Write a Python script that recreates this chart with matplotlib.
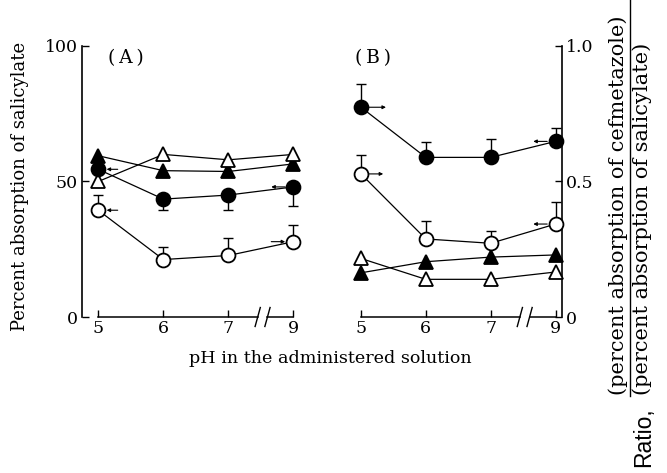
import matplotlib
matplotlib.use("Agg")
import matplotlib.pyplot as plt
from matplotlib.transforms import ScaledTranslation
from matplotlib.lines import Line2D

# ---------------- data ----------------
ph_labels = ["5", "6", "7", "9"]
ph_pos = [5, 6, 7, 8]          # 9 is drawn after an axis break

# Panel A (left axis, percent)
a_tri_filled = [59.5, 54.0, 53.7, 56.5]
a_tri_open = [50.0, 60.0, 58.0, 60.0]
a_circ_filled = [54.5, 43.5, 45.0, 48.0]
a_circ_filled_err_lo = [0.0, 4.1, 5.6, 7.0]
a_circ_open = [39.4, 21.2, 22.7, 27.8]
a_circ_open_err_up = [5.6, 4.6, 6.6, 6.2]

# Panel B (right axis, ratio)
b_circ_filled = [0.774, 0.589, 0.589, 0.648]
b_circ_filled_err_up = [0.084, 0.056, 0.068, 0.051]
b_circ_open = [0.528, 0.288, 0.272, 0.343]
b_circ_open_err_up = [0.071, 0.068, 0.047, 0.080]
b_tri_filled = [0.163, 0.204, 0.221, 0.229]
b_tri_open = [0.216, 0.139, 0.139, 0.166]

left_ticks = [0, 50, 100]
left_ticklabels = ["0", "50", "100"]
right_ticks = [0, 0.5, 1.0]
right_ticklabels = ["0", "0.5", "1.0"]

SERIF = ["DejaVu Serif"]
plt.rcParams["font.family"] = SERIF

W, H = 667, 473
fig = plt.figure(figsize=(W / 100, H / 100), dpi=100)


def fx(px):
    return px / W


def fy(py):
    return 1 - py / H


AX_BOT = 317
axA = fig.add_axes([fx(82), fy(AX_BOT), fx(300) - fx(82), fy(46) - fy(AX_BOT)])
axB = fig.add_axes([fx(348), fy(AX_BOT), fx(562) - fx(348), fy(46) - fy(AX_BOT)])

axA.set_xlim(4.75, 8.1)
axA.set_ylim(0, 100)
axB.set_xlim(4.8, 8.1)
axB.set_ylim(0, 1.0)

LW = 0.9
MS = 10
MEW = 1.3


def series(ax, y, marker, filled, z=3):
    ax.plot(ph_pos, y, color="k", lw=LW, zorder=2)
    ax.plot(ph_pos, y, ls="none", marker=marker, ms=MS,
            mfc="k" if filled else "white", mec="k", mew=MEW, zorder=z,
            clip_on=False)


def errs(ax, y, lo, up):
    ax.errorbar(ph_pos, y, yerr=[lo, up], fmt="none", ecolor="k",
                elinewidth=1.0, capsize=3.5, capthick=1.0, zorder=1.5)


def arrow(ax, x, y, p_tail, p_head):
    t0 = ax.transData + ScaledTranslation(p_tail / 72, 0, fig.dpi_scale_trans)
    t1 = ax.transData + ScaledTranslation(p_head / 72, 0, fig.dpi_scale_trans)
    ax.annotate("", xy=(x, y), xycoords=t1, xytext=(x, y), textcoords=t0,
                arrowprops=dict(arrowstyle="-|>", lw=0.8, color="k",
                                mutation_scale=5, shrinkA=0, shrinkB=0),
                zorder=4)


# Panel A
errs(axA, a_circ_filled, a_circ_filled_err_lo, [0] * 4)
errs(axA, a_circ_open, [0] * 4, a_circ_open_err_up)
series(axA, a_tri_filled, "^", True)
series(axA, a_tri_open, "^", False)
series(axA, a_circ_filled, "o", True)
series(axA, a_circ_open, "o", False)
arrow(axA, ph_pos[0], a_circ_filled[0], 14, 6)
arrow(axA, ph_pos[0], a_circ_open[0], 14, 6)
arrow(axA, ph_pos[3], a_circ_filled[3], -6, -16)
arrow(axA, ph_pos[3], a_circ_open[3], -16, -6)

# Panel B
errs(axB, b_circ_filled, [0] * 4, b_circ_filled_err_up)
errs(axB, b_circ_open, [0] * 4, b_circ_open_err_up)
series(axB, b_tri_filled, "^", True)
series(axB, b_tri_open, "^", False)
series(axB, b_circ_filled, "o", True)
series(axB, b_circ_open, "o", False)
arrow(axB, ph_pos[0], b_circ_filled[0], 6, 18)
arrow(axB, ph_pos[0], b_circ_open[0], 6, 16)
arrow(axB, ph_pos[3], b_circ_filled[3], -6, -16)
arrow(axB, ph_pos[3], b_circ_open[3], -6, -16)

# axes styling
for ax in (axA, axB):
    ax.patch.set_visible(False)
    ax.spines["top"].set_visible(False)
    ax.spines["bottom"].set_visible(False)
    ax.set_xticks(ph_pos)
    ax.set_xticklabels(ph_labels, fontsize=12.5)
    ax.tick_params(axis="x", direction="in", length=5, width=1.0, pad=2)
    # broken x axis drawn by hand
    ymin, ymax = ax.get_ylim()
    ax.plot([5, 7.45], [ymin, ymin], color="k", lw=1.1, clip_on=False, zorder=5)
    ax.plot([7.6, 8], [ymin, ymin], color="k", lw=1.1, clip_on=False, zorder=5)
    for xb in (7.45, 7.6):
        ax.plot([xb - 0.04, xb + 0.04], [ymin - 0.035 * ymax, ymin + 0.035 * ymax],
                color="k", lw=1.0, clip_on=False, zorder=5)

axA.spines["right"].set_visible(False)
axA.spines["left"].set_linewidth(1.2)
axA.spines["left"].set_bounds(0, 100)
axA.set_yticks(left_ticks)
axA.set_yticklabels(left_ticklabels, fontsize=12.5)
axA.tick_params(axis="y", direction="in", length=5, width=1.0, pad=3)

axB.spines["left"].set_visible(False)
axB.spines["right"].set_linewidth(1.2)
axB.spines["right"].set_bounds(0, 1.0)
axB.yaxis.tick_right()
axB.set_yticks(right_ticks)
axB.set_yticklabels(right_ticklabels, fontsize=12.5)
axB.tick_params(axis="y", direction="in", length=5, width=1.0, pad=3)

axA.text(5.15, 0.955, "(\u2009A\u2009)", fontsize=13.5, ha="left", va="center",
         transform=axA.get_xaxis_transform())
axB.text(4.91, 0.955, "(\u2009B\u2009)", fontsize=13.5, ha="left", va="center",
         transform=axB.get_xaxis_transform())

# labels
fig.text(fx(20), fy(186), "Percent absorption of salicylate", rotation=90,
         ha="center", va="center", fontsize=13)
fig.text(fx(330), fy(358), "pH in the administered solution",
         ha="center", va="center", fontsize=12.6)

fig.text(fx(618), fy(395), "(percent absorption of cefmetazole)", rotation=90,
         ha="center", va="bottom", fontsize=15)
fig.text(fx(642), fy(395), "(percent absorption of salicylate)", rotation=90,
         ha="center", va="bottom", fontsize=15)
fig.add_artist(Line2D([fx(630), fx(630)], [fy(396), 1.0], color="k", lw=1.0,
                      transform=fig.transFigure))
fig.text(fx(644), fy(437), "Ratio,", rotation=90, ha="center", va="center",
         fontsize=16.5, family=["Liberation Sans", "DejaVu Sans"])

fig.savefig("out.png", dpi=100)
